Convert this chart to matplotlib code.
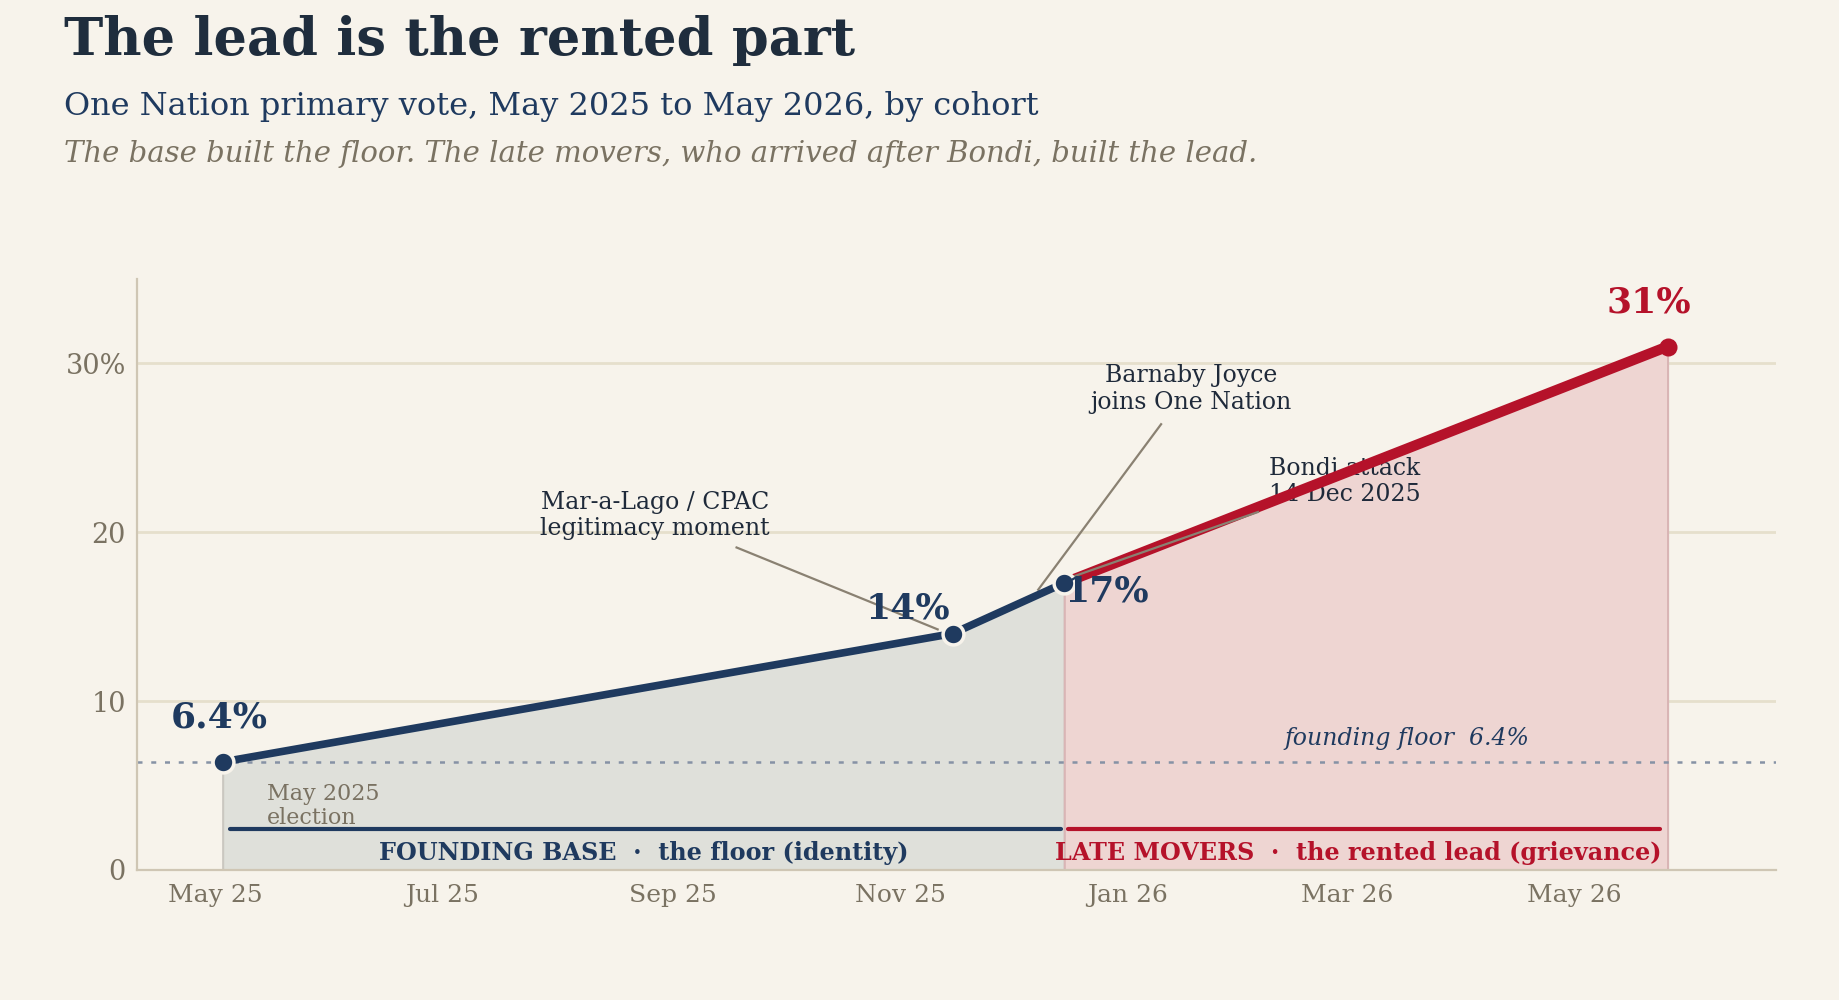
import pandas as pd
import matplotlib.pyplot as plt
import matplotlib.dates as mdates

plt.rcParams['font.family'] = ['DejaVu Serif']

# data
dates = pd.to_datetime(['2025-05-03', '2025-11-15', '2025-12-15', '2026-05-26'])
vote = [6.4, 14, 17, 31]
point_labels = ['6.4%', '14%', '17%', '31%']
floor = 6.4
tick_dates = pd.to_datetime(['2025-05-01', '2025-07-01', '2025-09-01', '2025-11-01',
                             '2026-01-01', '2026-03-01', '2026-05-01'])
y_ticks = [0, 10, 20, 30]
y_labels = ['0', '10', '20', '30%']

bg = '#f7f3eb'
navy = '#1f3a5f'
red = '#b5122a'
grey = '#7a7262'
ink = '#1f2a3a'
D = pd.Timedelta

fig = plt.figure(figsize=(18.39, 10), dpi=100, facecolor=bg)
ax = fig.add_axes([0.0745, 0.13, 0.891, 0.591])
ax.set_facecolor(bg)

# cohort fills
ax.fill_between(dates[:3], 0, vote[:3], color='#dfe0da', edgecolor='#cac7c0', lw=1.5, zorder=1)
ax.fill_between(dates[2:], 0, vote[2:], color='#eed5d2', edgecolor='#d9b5b5', lw=1.5, zorder=1)

# grid
for y in y_ticks[1:]:
    ax.axhline(y, color='#e6dfcc', lw=2, zorder=0.5)

# founding floor
ax.axhline(floor, color='#8692a5', lw=1.8, ls=(0, (2, 3.5)), zorder=2)
ax.text(pd.Timestamp('2026-03-17'), floor + 0.7, 'founding floor  6.4%', color=navy,
        fontsize=17, style='italic', ha='center', va='bottom', zorder=5)

# lines
ax.plot(dates[:3], vote[:3], color=navy, lw=5.5, solid_capstyle='round', zorder=3)
ax.plot(dates[2:], vote[2:], color=red, lw=7.5, solid_capstyle='round', zorder=3)
ax.plot(dates[:3], vote[:3], 'o', color=navy, ms=15, mec=bg, mew=2.5, zorder=4)
ax.plot(dates[3:], vote[3:], 'o', color=red, ms=13, mew=0, zorder=4)

# value labels
ax.text(dates[0] - D(days=1), vote[0] + 1.6, point_labels[0], color=navy,
        fontsize=26, fontweight='bold', ha='center', va='bottom', zorder=5)
ax.text(dates[1] - D(days=12), vote[1] + 0.5, point_labels[1], color=navy,
        fontsize=26, fontweight='bold', ha='center', va='bottom', zorder=5)
ax.text(dates[2], vote[2] - 0.5, point_labels[2], color=navy,
        fontsize=26, fontweight='bold', ha='left', va='center', zorder=5)
ax.text(dates[3] - D(days=5), vote[3] + 1.6, point_labels[3], color=red,
        fontsize=26, fontweight='bold', ha='center', va='bottom', zorder=5)

# annotations
lead = dict(color='#8a8172', lw=1.6)
ax.text(pd.Timestamp('2025-08-27'), 21.0, 'Mar-a-Lago / CPAC\nlegitimacy moment', ha='center',
        va='center', fontsize=17, color=ink, zorder=5)
ax.plot([pd.Timestamp('2025-09-18'), pd.Timestamp('2025-11-11')], [19.1, 14.25], zorder=2.8, **lead)
ax.text(pd.Timestamp('2026-01-18'), 28.5, 'Barnaby Joyce\njoins One Nation', ha='center',
        va='center', fontsize=17, color=ink, zorder=5)
ax.plot([pd.Timestamp('2026-01-10'), pd.Timestamp('2025-12-08')], [26.4, 16.6], zorder=2.8, **lead)
ax.text(pd.Timestamp('2026-02-08'), 23.0, 'Bondi attack\n14 Dec 2025', ha='left',
        va='center', fontsize=17, color=ink, zorder=2.5)
ax.plot([pd.Timestamp('2026-02-05'), pd.Timestamp('2025-12-17')], [21.2, 17.35], zorder=3.5, **lead)
ax.text(dates[0] + D(days=12), 3.8, 'May 2025\nelection', color=grey,
        fontsize=16, ha='left', va='center', linespacing=1.1, zorder=5)

# cohort brackets
ax.plot([dates[0] + D(days=2), dates[2] - D(days=1)], [2.4, 2.4],
        color=navy, lw=3, solid_capstyle='round', zorder=3)
ax.plot([dates[2] + D(days=1), dates[3] - D(days=2)], [2.4, 2.4],
        color=red, lw=3, solid_capstyle='round', zorder=3)
ax.text(dates[0] + (dates[2] - dates[0]) / 2, 1.0, 'FOUNDING BASE  ·  the floor (identity)',
        color=navy, fontsize=17.2, fontweight='bold', ha='center', va='center', zorder=5)
ax.text(dates[2] + (dates[3] - dates[2]) / 2 - D(days=2), 1.0,
        'LATE MOVERS  ·  the rented lead (grievance)',
        color=red, fontsize=17.2, fontweight='bold', ha='center', va='center', zorder=5)

# axes
ax.set_xlim(pd.Timestamp('2025-04-10'), pd.Timestamp('2026-06-24'))
ax.set_ylim(0, 35)
ax.set_xticks(tick_dates)
ax.xaxis.set_major_formatter(mdates.DateFormatter('%b %y'))
ax.set_yticks(y_ticks)
ax.set_yticklabels(y_labels)
ax.tick_params(axis='x', length=0, pad=10, labelsize=18, labelcolor=grey)
ax.tick_params(axis='y', length=0, pad=8, labelsize=19.5, labelcolor=grey)
for s in ['top', 'right']:
    ax.spines[s].set_visible(False)
for s in ['left', 'bottom']:
    ax.spines[s].set_color('#cfc6b4')
    ax.spines[s].set_linewidth(1.6)

# titles
fig.text(0.035, 0.945, 'The lead is the rented part', fontsize=38, fontweight='bold',
         color='#1f2d3d', ha='left', va='baseline')
fig.text(0.035, 0.885, 'One Nation primary vote, May 2025 to May 2026, by cohort', fontsize=23,
         color=navy, ha='left', va='baseline')
fig.text(0.035, 0.838, 'The base built the floor. The late movers, who arrived after Bondi, built the lead.',
         fontsize=21, style='italic', color=grey, ha='left', va='baseline')

fig.savefig('out.png', dpi=100, facecolor=bg)
